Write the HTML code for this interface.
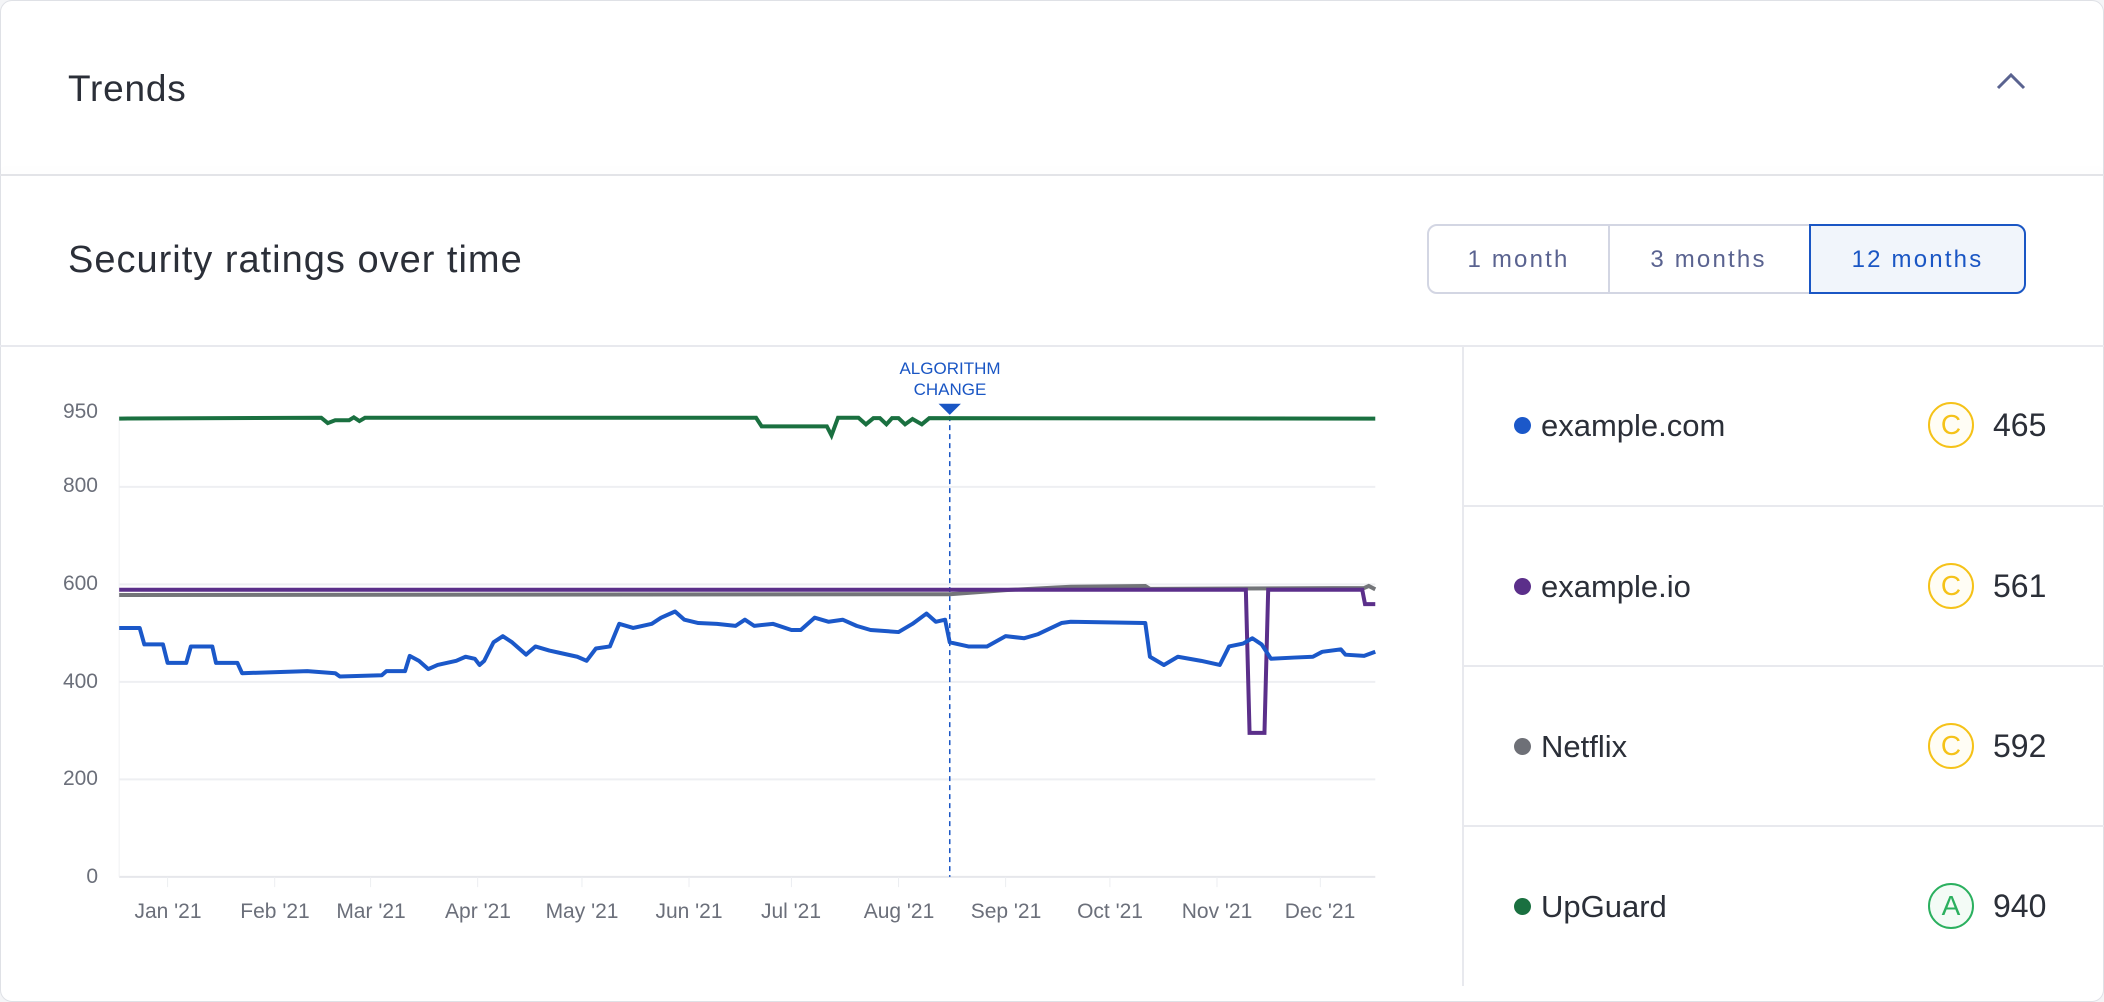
<!DOCTYPE html>
<html><head><meta charset="utf-8"><style>
body{margin:0;width:2104px;height:985px;background:#f4f5f7;font-family:"Liberation Sans",sans-serif;overflow:hidden;position:relative}
.card{position:absolute;left:0;top:0;width:2102px;height:1000px;background:#fff;border:1px solid #dfe1e6;border-radius:12px}
.abs{position:absolute}
.hdr{left:68px;top:68px;font-size:37px;letter-spacing:0.8px;color:#2b2f38}
.btn{top:224px;height:70px;border:2px solid #d3d6e3;color:#5a6390;font-size:24px;letter-spacing:2.2px;display:flex;align-items:center;justify-content:center;box-sizing:border-box;padding-top:2px}
.ylab{width:60px;text-align:right;left:38px;font-size:21px;color:#6b6f7a}
.xlab{font-size:21px;color:#6b6f7a;transform:translateX(-50%);top:900px;white-space:nowrap}
.row{left:1463px;width:641px;height:160px;border-top:2px solid #e8e9ee}
.dot{position:absolute;left:51px;width:17px;height:17px;border-radius:50%}
.name{position:absolute;left:78px;font-size:31px;color:#2b2f38}
.badge{position:absolute;left:465px;width:46px;height:46px;border-radius:50%;font-size:28px;display:flex;align-items:center;justify-content:center;box-sizing:border-box}
.num{position:absolute;left:530px;font-size:32px;color:#2b2f38}
</style></head><body>
<div class="card"></div>
<div class="abs hdr">Trends</div>
<svg class="abs" style="left:1995px;top:70px" width="32" height="22"><polyline points="3,18 16,5 29,18" fill="none" stroke="#5a6390" stroke-width="3"/></svg>
<div class="abs" style="left:0;top:174px;width:2104px;height:2px;background:#e3e4e8;box-shadow:0 -4px 8px rgba(0,0,0,0.04)"></div>
<div class="abs" style="left:68px;top:239px;font-size:38px;letter-spacing:1px;color:#2b2f38">Security ratings over time</div>
<div class="abs btn" style="left:1427px;width:183px;border-radius:10px 0 0 10px">1 month</div>
<div class="abs btn" style="left:1608px;width:203px;border-left:none">3 months</div>
<div class="abs btn" style="left:1809px;width:217px;border-color:#1a56c4;background:#f1f5fb;color:#1a56c4;border-radius:0 10px 10px 0">12 months</div>
<div class="abs" style="left:0;top:345px;width:2104px;height:2px;background:#e8e9ee"></div>
<div class="abs" style="left:1462px;top:346px;width:2px;height:640px;background:#e8e9ee"></div>

<div class="abs ylab" style="top:400px">950</div>
<div class="abs ylab" style="top:474px">800</div>
<div class="abs ylab" style="top:572px">600</div>
<div class="abs ylab" style="top:670px">400</div>
<div class="abs ylab" style="top:767px">200</div>
<div class="abs ylab" style="top:865px">0</div>

<div class="abs xlab" style="left:168px">Jan '21</div>
<div class="abs xlab" style="left:275px">Feb '21</div>
<div class="abs xlab" style="left:371px">Mar '21</div>
<div class="abs xlab" style="left:478px">Apr '21</div>
<div class="abs xlab" style="left:582px">May '21</div>
<div class="abs xlab" style="left:689px">Jun '21</div>
<div class="abs xlab" style="left:791px">Jul '21</div>
<div class="abs xlab" style="left:899px">Aug '21</div>
<div class="abs xlab" style="left:1006px">Sep '21</div>
<div class="abs xlab" style="left:1110px">Oct '21</div>
<div class="abs xlab" style="left:1217px">Nov '21</div>
<div class="abs xlab" style="left:1320px">Dec '21</div>

<div class="abs" style="left:890px;top:358px;width:120px;text-align:center;font-size:17px;line-height:21px;color:#1a56c4">ALGORITHM<br>CHANGE</div>

<svg class="abs" style="left:0;top:340px" width="1460" height="645" viewBox="0 0 1568 1568" preserveAspectRatio="none">
<g fill="none">
<line x1="128" y1="357" x2="1477" y2="357" stroke="#eeeff2" stroke-width="2" vector-effect="non-scaling-stroke"/>
<line x1="128" y1="594" x2="1477" y2="594" stroke="#eeeff2" stroke-width="2" vector-effect="non-scaling-stroke"/>
<line x1="128" y1="831" x2="1477" y2="831" stroke="#eeeff2" stroke-width="2" vector-effect="non-scaling-stroke"/>
<line x1="128" y1="1068" x2="1477" y2="1068" stroke="#eeeff2" stroke-width="2" vector-effect="non-scaling-stroke"/>
<line x1="128" y1="1305" x2="1477" y2="1305" stroke="#e6e7eb" stroke-width="2" vector-effect="non-scaling-stroke"/>
<line x1="128" y1="185" x2="128" y2="1305" stroke="#f0f1f3" stroke-width="1" vector-effect="non-scaling-stroke"/>
</g>
<g stroke="#eceef1" stroke-width="1">
<path vector-effect="non-scaling-stroke" d="M180,1305V1330M295,1305V1330M398,1305V1330M513,1305V1330M625,1305V1330M740,1305V1330M850,1305V1330M965,1305V1330M1080,1305V1330M1192,1305V1330M1307,1305V1330M1418,1305V1330"/>
</g>
<line x1="1020" y1="185" x2="1020" y2="1305" stroke="#1a56c4" stroke-width="1.5" stroke-dasharray="5,4" vector-effect="non-scaling-stroke"/>
<polygon points="1008,155 1032,155 1020,182" fill="#1a56c4"/>
<path vector-effect="non-scaling-stroke" fill="none" stroke="#737579" stroke-width="4" d="M128,620 L1020,618 L1080,608 L1150,600 L1230,598 L1235,605 L1465,603 L1470,598 L1477,606"/>
<path vector-effect="non-scaling-stroke" fill="none" stroke="#5b2f8a" stroke-width="4" d="M128,607 L1338,607 L1342,955 L1358,955 L1362,607 L1463,607 L1466,642 L1477,642"/>
<path vector-effect="non-scaling-stroke" fill="none" stroke="#1a7040" stroke-width="4" d="M128,191 L345,189 L352,202 L360,195 L375,195 L380,188 L386,197 L392,189 L812,189 L818,210 L888,210 L893,232 L900,189 L922,189 L930,205 L938,190 L945,190 L952,205 L958,190 L965,190 L972,205 L980,192 L990,205 L998,190 L1477,191"/>
<path vector-effect="non-scaling-stroke" fill="none" stroke="#1b58c9" stroke-width="4" stroke-linejoin="round" d="M128,700 L150,700 L155,740 L175,740 L180,785 L200,785 L205,745 L228,745 L232,785 L255,785 L260,810 L330,805 L360,810 L365,818 L410,815 L415,805 L435,805 L440,768 L450,780 L460,800 L470,790 L490,780 L500,770 L510,775 L515,790 L520,780 L530,735 L540,720 L550,735 L565,765 L575,745 L590,755 L600,760 L620,770 L630,780 L640,750 L655,745 L665,690 L680,700 L700,690 L710,675 L725,660 L735,680 L750,688 L770,690 L790,695 L800,680 L810,695 L830,690 L850,705 L860,705 L875,675 L890,685 L905,680 L920,695 L935,705 L965,710 L980,690 L995,665 L1005,685 L1015,680 L1020,735 L1040,745 L1060,745 L1080,720 L1100,725 L1115,715 L1140,688 L1150,685 L1230,688 L1235,770 L1250,790 L1265,770 L1290,780 L1310,790 L1320,745 L1335,738 L1345,725 L1355,740 L1365,775 L1390,772 L1410,770 L1420,758 L1440,752 L1445,765 L1465,768 L1477,758"/>
</svg>

<div class="abs row" style="top:346px;border-top:none">
 <div class="dot" style="top:71px;background:#1b58c9"></div><div class="name" style="top:62px">example.com</div>
 <div class="badge" style="top:56px;border:2px solid #f5c218;color:#f5c218;background:#fffdf5">C</div><div class="num" style="top:61px">465</div></div>
<div class="abs row" style="top:505px">
 <div class="dot" style="top:71px;background:#5b2f8a"></div><div class="name" style="top:62px">example.io</div>
 <div class="badge" style="top:56px;border:2px solid #f5c218;color:#f5c218;background:#fffdf5">C</div><div class="num" style="top:61px">561</div></div>
<div class="abs row" style="top:665px">
 <div class="dot" style="top:71px;background:#6e7077"></div><div class="name" style="top:62px">Netflix</div>
 <div class="badge" style="top:56px;border:2px solid #f5c218;color:#f5c218;background:#fffdf5">C</div><div class="num" style="top:61px">592</div></div>
<div class="abs row" style="top:825px">
 <div class="dot" style="top:71px;background:#1a7040"></div><div class="name" style="top:62px">UpGuard</div>
 <div class="badge" style="top:56px;border:2px solid #2bb05f;color:#2bb05f;background:#f3fbf6">A</div><div class="num" style="top:61px">940</div></div>
</body></html>
